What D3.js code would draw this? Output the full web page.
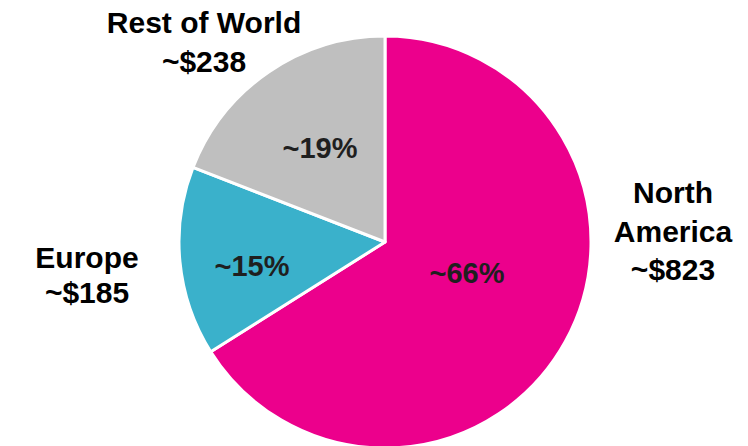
<!DOCTYPE html>
<html><head><meta charset="utf-8">
<script src="https://cdn.jsdelivr.net/npm/d3@7"></script>
<style>body{margin:0;background:#fff}svg{display:block}</style>
</head><body>
<svg id="chart" width="748" height="446"></svg>
<script>
const regions = ["North America", "Europe", "Rest of World"];
const values = [823, 185, 238];
const pctLabels = ["~66%", "~15%", "~19%"];
const nameLines = [["North", "America", "~$823"], ["Europe", "~$185"], ["Rest of World", "~$238"]];
const colors = ["#EC008C", "#3AB1CB", "#BFBFBF"];

const svg = d3.select("#chart");
const cx = 385, cy = 242, r = 206;
const g = svg.append("g").attr("transform", `translate(${cx},${cy})`);
const pie = d3.pie().sort(null).value(d => d)(values);
const arc = d3.arc().innerRadius(0).outerRadius(r);
g.selectAll("path").data(pie).join("path")
  .attr("d", arc).attr("fill", (d, i) => colors[i])
  .attr("stroke", "#fff").attr("stroke-width", 3).attr("stroke-linejoin", "round");

const font = "'Liberation Sans', Arial, sans-serif";
const pctPos = [[82, 41], [-133, 34], [-65, -84]];
g.selectAll("text.pct").data(pie).join("text").attr("class", "pct")
  .attr("x", (d, i) => pctPos[i][0]).attr("y", (d, i) => pctPos[i][1])
  .attr("text-anchor", "middle").attr("font-family", font).attr("font-weight", "bold")
  .attr("font-size", 29).attr("fill", "#1f1f1f").text((d, i) => pctLabels[i]);

const outPos = [[288, -39, 38.5], [-298, 26, 35], [-181, -209, 39]];
nameLines.forEach((lines, i) => {
  const t = g.append("text").attr("text-anchor", "middle").attr("font-family", font)
    .attr("font-weight", "bold").attr("font-size", 30).attr("fill", "#000");
  lines.forEach((l, j) => t.append("tspan").attr("x", outPos[i][0]).attr("y", outPos[i][1] + j * outPos[i][2]).text(l));
});
</script>
</body></html>
